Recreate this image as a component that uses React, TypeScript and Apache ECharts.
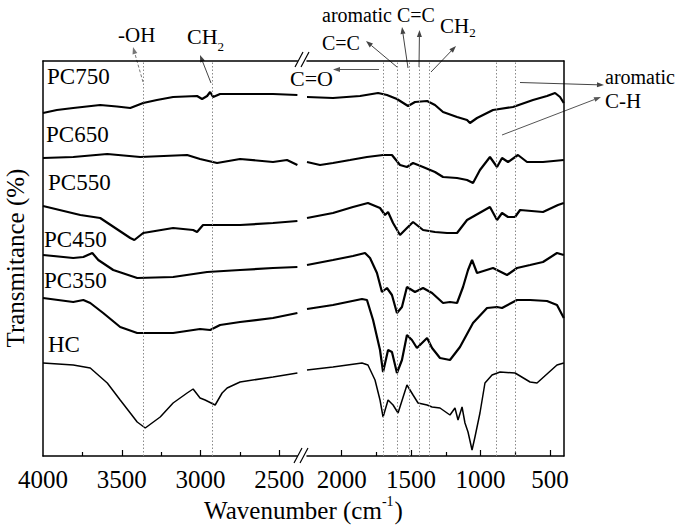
import React, { useEffect, useRef } from "react";
import * as echarts from "echarts";

const FONT = "Liberation Serif, Times New Roman, serif";

// ---- data: [wavenumber (cm-1), transmittance (offset, a.u.)] ----
const seriesNames = ["HC", "PC350", "PC450", "PC550", "PC650", "PC750"];

const hc = [
  [4000, 18.6], [3808, 18.2], [3700, 17.6], [3592, 14.6], [3510, 11.2], [3446, 8.6], [3402, 6.8], [3351, 5.6],
  [3256, 7.8], [3174, 10.6], [3085, 12.6], [3047, 13.4], [3003, 11.6], [2971, 11.2], [2907, 10.2], [2863, 12.6],
  [2831, 13.6], [2749, 14.8], [2540, 15.8], [2385, 16.6],
  [2250, 17.2], [2063, 17.8], [1854, 18.6], [1811, 18.2], [1760, 15.2], [1724, 11.2], [1702, 7.8], [1666, 11.2],
  [1630, 10.2], [1594, 8.6], [1530, 14.2], [1486, 12.2], [1450, 10.6], [1385, 10.2], [1349, 9.8], [1292, 9.6],
  [1220, 8.2], [1184, 9.6], [1162, 7.2], [1133, 9.8], [1112, 6.6], [1090, 4.8], [1061, 1.2], [1040, 3.8],
  [1004, 8.6], [968, 14.6], [917, 16.2], [859, 16.8], [751, 16.6], [643, 14.8], [593, 14.6], [521, 16.4],
  [449, 18.2], [400, 18.6],
];

const pc350 = [
  [4000, 31.6], [3808, 30.8], [3744, 31.2], [3700, 30.6], [3618, 28.6], [3510, 25.8], [3402, 24.6], [3174, 24.6],
  [3003, 25.4], [2939, 25.2], [2876, 26.2], [2749, 26.8], [2540, 27.6], [2385, 28.6],
  [2250, 29.4], [2063, 30.2], [1854, 31.4], [1818, 31.2], [1774, 27.2], [1724, 21.2], [1702, 16.8], [1666, 21.2],
  [1638, 20.8], [1602, 16.6], [1566, 19.2], [1530, 24.2], [1494, 23.2], [1458, 21.6], [1385, 23.6], [1349, 21.6],
  [1292, 19.6], [1220, 19.2], [1148, 21.8], [1054, 26.6], [953, 29.6], [881, 29.8], [845, 29.6], [737, 31.2],
  [643, 31.2], [521, 31.0], [449, 30.2], [400, 27.6],
];

const pc450 = [
  [4000, 40.2], [3808, 39.6], [3744, 39.8], [3687, 40.6], [3649, 39.2], [3554, 37.2], [3402, 35.6], [3174, 35.8],
  [2958, 36.8], [2749, 37.2], [2540, 37.6], [2385, 37.8],
  [2250, 38.2], [2063, 39.2], [1919, 40.0], [1832, 40.6], [1796, 39.6], [1746, 36.6], [1710, 32.8], [1674, 33.6],
  [1638, 32.2], [1602, 28.6], [1566, 29.8], [1530, 33.8], [1472, 32.8], [1414, 33.6], [1349, 32.6], [1270, 30.6],
  [1220, 30.8], [1169, 30.6], [1126, 33.8], [1090, 37.2], [1061, 39.2], [1025, 36.6], [910, 37.6], [809, 36.2],
  [737, 37.6], [643, 38.2], [550, 38.8], [449, 40.6], [400, 40.2],
];

const pc550 = [
  [4000, 50.0], [3763, 48.2], [3637, 47.6], [3446, 43.6], [3420, 43.2], [3364, 44.6], [3174, 45.6], [3047, 45.2],
  [3022, 44.8], [2984, 46.2], [2749, 46.2], [2540, 46.6], [2385, 47.0],
  [2250, 47.6], [2063, 48.6], [1919, 49.8], [1811, 50.6], [1724, 49.6], [1688, 48.2], [1666, 48.8], [1630, 46.6],
  [1580, 44.2], [1530, 45.6], [1486, 46.8], [1414, 45.2], [1328, 44.8], [1241, 44.6], [1169, 44.6], [1097, 47.2],
  [932, 49.8], [881, 47.2], [845, 48.6], [802, 47.8], [751, 47.8], [715, 49.2], [550, 48.8], [442, 50.2], [400, 50.6],
];

const pc650 = [
  [4000, 59.6], [3808, 59.8], [3592, 60.4], [3383, 59.8], [3085, 60.2], [3003, 59.4], [2895, 58.6], [2749, 59.4],
  [2540, 58.8], [2451, 59.2], [2385, 58.2],
  [2250, 58.8], [2156, 58.2], [2063, 58.6], [1940, 59.2], [1818, 59.8], [1702, 60.2], [1638, 60.2], [1580, 58.2],
  [1530, 57.8], [1486, 58.6], [1414, 57.8], [1328, 56.8], [1270, 55.8], [1169, 55.6], [1097, 55.2], [1054, 54.6],
  [1004, 57.2], [932, 59.8], [881, 57.8], [845, 59.6], [802, 58.8], [730, 60.2], [665, 58.8], [550, 58.8], [400, 59.2],
];

const pc750 = [
  [4000, 68.6], [3912, 69.2], [3808, 69.6], [3637, 70.2], [3531, 69.9], [3446, 69.6], [3364, 70.6], [3277, 71.2],
  [3174, 71.8], [3022, 72.0], [2990, 71.4], [2958, 72.0], [2939, 72.8], [2920, 71.8], [2876, 72.4], [2749, 72.4],
  [2540, 72.4], [2385, 72.2],
  [2250, 71.8], [2063, 71.6], [1868, 72.0], [1738, 72.6], [1674, 72.2], [1602, 71.4], [1522, 70.0], [1472, 70.8],
  [1385, 71.0], [1328, 70.2], [1270, 68.8], [1169, 67.8], [1097, 67.2], [1076, 66.6], [1025, 67.6], [910, 69.2],
  [766, 69.8], [622, 71.2], [521, 72.0], [463, 72.6], [427, 71.8], [400, 70.6],
];

const curves = [hc, pc350, pc450, pc550, pc650, pc750];

const leftTickLabels = [4000, 3500, 3000, 2500];
const leftMajorTicks = [3500, 3000, 2500];
const leftMinorTicks = [3750, 3250, 2750];
const rightTickLabels = [2000, 1500, 1000, 500];
const rightMajorTicks = [2000, 1500, 1000, 500];
const rightMinorTicks = [1750, 1250, 750];
const leftPeakLines = [3362, 2925];
const rightPeakLines = [1700, 1600, 1515, 1440, 1370, 890, 750];

const LEFT_MIN = 2385;
const LEFT_MAX = 4000;
const RIGHT_MIN = 400;
const RIGHT_MAX = 2250;
const Y_MAX = 79;

function measure(text: string, size: number): number {
  const c = document.createElement("canvas").getContext("2d");
  if (!c) return text.length * size * 0.5;
  c.font = `${size}px ${FONT}`;
  return c.measureText(text).width;
}

function txt(x: number, y: number, s: string, size: number, extra: any = {}) {
  return {
    type: "text",
    x,
    y,
    silent: true,
    style: {
      text: s,
      fontSize: size,
      fontFamily: FONT,
      fill: "#000",
      align: "left",
      verticalAlign: "middle",
    },
    ...extra,
  };
}

function arrow(x1: number, y1: number, x2: number, y2: number, color = "#444", dash?: number[]) {
  const dx = x2 - x1;
  const dy = y2 - y1;
  const len = Math.hypot(dx, dy);
  const ux = dx / len;
  const uy = dy / len;
  const L = 7;
  const W = 2.5;
  const bx = x2 - ux * L;
  const by = y2 - uy * L;
  return [
    {
      type: "line",
      silent: true,
      shape: { x1, y1, x2: bx, y2: by },
      style: { stroke: color, lineWidth: 1, lineDash: dash || null },
    },
    {
      type: "polygon",
      silent: true,
      shape: { points: [[x2, y2], [bx - uy * W, by + ux * W], [bx + uy * W, by - ux * W]] },
      style: { fill: color },
    },
  ];
}

function seg(x1: number, y1: number, x2: number, y2: number) {
  return { type: "line", silent: true, shape: { x1, y1, x2, y2 }, style: { stroke: "#000", lineWidth: 1.2 } };
}

export default function App() {
  const ref = useRef<HTMLDivElement>(null);

  useEffect(() => {
    if (!ref.current) return;
    const chart = echarts.init(ref.current, null, { renderer: "svg" });

    const axisLine = { show: true, lineStyle: { color: "#000", width: 1.5 } };
    const labelStyle = {
      color: "#000",
      fontSize: 25,
      fontFamily: FONT,
      margin: 11,
      formatter: (v: number) => String(v),
    };

    const xAxes: any[] = [
      {
        type: "value", gridIndex: 0, position: "bottom", min: LEFT_MIN, max: LEFT_MAX, inverse: true,
        axisLine,
        axisTick: { show: true, inside: true, length: 6, customValues: leftMajorTicks, lineStyle: { color: "#000", width: 1.2 } },
        axisLabel: { show: true, customValues: leftTickLabels, ...labelStyle },
        splitLine: { show: false },
      },
      {
        type: "value", gridIndex: 0, position: "bottom", min: LEFT_MIN, max: LEFT_MAX, inverse: true,
        axisLine: { show: false },
        axisTick: { show: true, inside: true, length: 4, customValues: leftMinorTicks, lineStyle: { color: "#000", width: 1.2 } },
        axisLabel: { show: false },
        splitLine: { show: false },
      },
      {
        type: "value", gridIndex: 0, position: "top", min: LEFT_MIN, max: LEFT_MAX, inverse: true,
        axisLine, axisTick: { show: false }, axisLabel: { show: false }, splitLine: { show: false },
      },
      {
        type: "value", gridIndex: 1, position: "bottom", min: RIGHT_MIN, max: RIGHT_MAX, inverse: true,
        axisLine,
        axisTick: { show: true, inside: true, length: 6, customValues: rightMajorTicks, lineStyle: { color: "#000", width: 1.2 } },
        axisLabel: { show: true, customValues: rightTickLabels, ...labelStyle },
        splitLine: { show: false },
      },
      {
        type: "value", gridIndex: 1, position: "bottom", min: RIGHT_MIN, max: RIGHT_MAX, inverse: true,
        axisLine: { show: false },
        axisTick: { show: true, inside: true, length: 4, customValues: rightMinorTicks, lineStyle: { color: "#000", width: 1.2 } },
        axisLabel: { show: false },
        splitLine: { show: false },
      },
      {
        type: "value", gridIndex: 1, position: "top", min: RIGHT_MIN, max: RIGHT_MAX, inverse: true,
        axisLine, axisTick: { show: false }, axisLabel: { show: false }, splitLine: { show: false },
      },
    ];

    const yAxes: any[] = [
      {
        type: "value", gridIndex: 0, position: "left", min: 0, max: Y_MAX,
        axisLine, axisTick: { show: false }, axisLabel: { show: false }, splitLine: { show: false },
      },
      {
        type: "value", gridIndex: 1, position: "right", min: 0, max: Y_MAX,
        axisLine, axisTick: { show: false }, axisLabel: { show: false }, splitLine: { show: false },
      },
    ];

    const peakStyle = { type: [1.5, 2], color: "#8a8a8a", width: 1 };
    const series: any[] = [];
    curves.forEach((c, i) => {
      const width = i === 0 ? 1.5 : 2.2;
      series.push({
        type: "line",
        name: seriesNames[i] + "-a",
        xAxisIndex: 0,
        yAxisIndex: 0,
        data: c.filter((p) => p[0] >= LEFT_MIN),
        symbol: "none",
        silent: true,
        lineStyle: { color: "#000", width },
        z: 3,
        markLine: i === 0
          ? { silent: true, symbol: "none", label: { show: false }, lineStyle: peakStyle, data: leftPeakLines.map((v) => ({ xAxis: v })) }
          : undefined,
      });
      series.push({
        type: "line",
        name: seriesNames[i] + "-b",
        xAxisIndex: 3,
        yAxisIndex: 1,
        data: c.filter((p) => p[0] <= RIGHT_MAX),
        symbol: "none",
        silent: true,
        lineStyle: { color: "#000", width },
        z: 3,
        markLine: i === 0
          ? { silent: true, symbol: "none", label: { show: false }, lineStyle: peakStyle, data: rightPeakLines.map((v) => ({ xAxis: v })) }
          : undefined,
      });
    });

    // axis title with superscript
    const tMain = "Wavenumber (cm";
    const wMain = measure(tMain, 25);
    const wSup = measure("-1", 14);
    const wParen = measure(")", 25);
    const total = wMain + wSup + 1 + wParen;
    const tx0 = 303.5 - total / 2;

    const wCH1 = measure("CH", 22);
    const wCH2 = measure("CH", 21);

    const graphic: any[] = [
      // curve labels
      txt(47, 76, "PC750", 23),
      txt(46, 134.5, "PC650", 23),
      txt(48, 182.5, "PC550", 23),
      txt(44, 239.5, "PC450", 23),
      txt(44, 280.5, "PC350", 23),
      txt(48, 344.5, "HC", 23),
      // axis titles
      txt(tx0, 510, tMain, 25),
      txt(tx0 + wMain, 501, "-1", 14),
      txt(tx0 + wMain + wSup + 1, 510, ")", 25),
      {
        type: "text",
        x: 15,
        y: 258,
        rotation: Math.PI / 2,
        silent: true,
        style: {
          text: "Transmitance (%)",
          fontSize: 25,
          fontFamily: FONT,
          fill: "#000",
          align: "center",
          verticalAlign: "middle",
        },
      },
      // annotations
      txt(118, 35, "-OH", 21),
      txt(187, 36, "CH", 22),
      txt(187 + wCH1, 46, "2", 13),
      txt(322, 14.5, "aromatic C=C", 20),
      txt(440, 25.5, "CH", 21),
      txt(440 + wCH2, 32, "2", 13),
      txt(322, 42.5, "C=C", 20),
      txt(290, 78, "C=O", 22),
      txt(605, 77, "aromatic", 20),
      txt(605, 100.5, "C-H", 21),
      ...arrow(143, 82, 133, 47, "#777", [3, 2]),
      ...arrow(211, 83, 200, 55, "#444"),
      ...arrow(379, 69.5, 333, 69.5, "#555"),
      ...arrow(397, 67, 366, 41, "#444"),
      ...arrow(408, 68, 402, 27, "#444"),
      ...arrow(419, 67, 419.5, 30, "#444"),
      ...arrow(431, 72, 456, 46, "#444"),
      ...arrow(520, 82.5, 604, 85, "#444"),
      ...arrow(502, 135, 601, 97, "#555"),
      // axis break marks
      seg(295, 67, 303, 52),
      seg(301, 67, 309, 52),
      seg(294, 463, 302, 448),
      seg(300, 463, 308, 448),
    ];

    chart.setOption({
      animation: false,
      backgroundColor: "#fff",
      grid: [
        { left: 43, top: 61, width: 254.4, height: 395, containLabel: false },
        { left: 307, top: 61, width: 256.8, height: 395, containLabel: false },
      ],
      xAxis: xAxes,
      yAxis: yAxes,
      series,
      graphic,
    });

    return () => chart.dispose();
  }, []);

  return (
    <div
      ref={ref}
      style={{ position: "fixed", left: 0, top: 0, width: 685, height: 528, background: "#fff" }}
    />
  );
}
